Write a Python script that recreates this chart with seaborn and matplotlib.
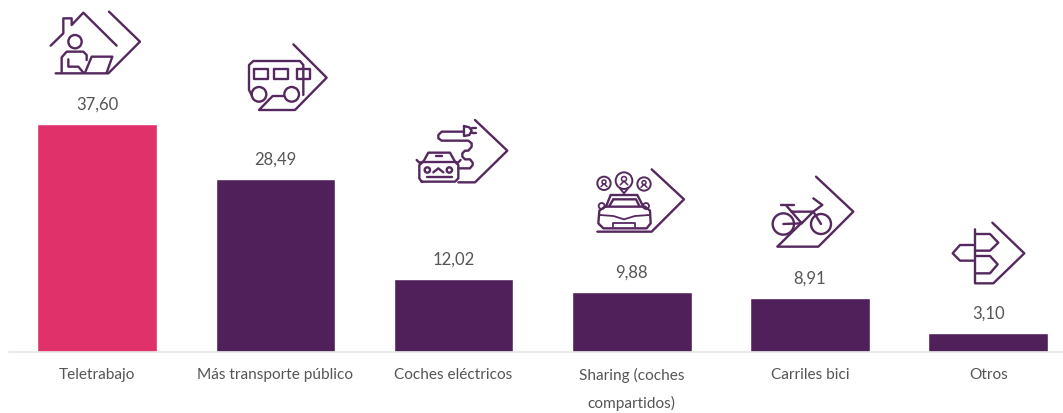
import matplotlib
matplotlib.use("Agg")
import matplotlib.pyplot as plt
import pandas as pd
import seaborn as sns
from matplotlib.patches import Circle

categories = ['Teletrabajo', 'Más transporte público', 'Coches eléctricos',
              'Sharing (coches\ncompartidos)', 'Carriles bici', 'Otros']
values = [37.60, 28.49, 12.02, 9.88, 8.91, 3.10]
bar_colors = ['#e0316b', '#4f2059', '#4f2059', '#4f2059', '#4f2059', '#4f2059']

ICON = '#55285f'
TEXT = '#555555'

sns.set_theme(style='white')
plt.rcParams['font.family'] = ['Lato', 'DejaVu Sans']

W, H = 1063, 413
fig = plt.figure(figsize=(W / 100, H / 100), dpi=100)
ax = fig.add_axes([9 / W, 61 / H, 1054 / W, 352 / H])

df = pd.DataFrame({'category': categories, 'value': values})
sns.barplot(data=df, x='category', y='value', hue='category', palette=bar_colors,
            legend=False, width=0.672, saturation=1, ax=ax)
ax.set_xlim(-0.495, 5.42)
ax.set_ylim(0, 58.1)
ax.set_xlabel('')
ax.set_ylabel('')
ax.set_yticks([])
sns.despine(ax=ax, left=True)
ax.spines['bottom'].set_color('#e6e6e6')
ax.spines['bottom'].set_linewidth(1.2)
ax.tick_params(axis='x', length=0, pad=11.5, labelsize=11.1, labelcolor=TEXT)
for lab in ax.get_xticklabels():
    lab.set_linespacing(2.05)
    lab.set_verticalalignment('top')

for cont in ax.containers:
    ax.bar_label(cont, fmt=lambda v: f'{v:.2f}'.replace('.', ','), padding=8.5,
                 fontsize=12, color=TEXT)

# icons, traced in pixels on an overlay
ov = fig.add_axes([0, 0, 1, 1], facecolor='none')
ov.set_xlim(0, W)
ov.set_ylim(H, 0)
ov.axis('off')


def line(x0, y0, pts, lw=1.7):
    ov.plot([x0 + p[0] / 3 for p in pts], [y0 + p[1] / 3 for p in pts],
            color=ICON, lw=lw, solid_capstyle='round', solid_joinstyle='round')


def ring(x0, y0, cx, cy, r, lw=1.7):
    ov.add_patch(Circle((x0 + cx / 3, y0 + cy / 3), r / 3, fill=False, ec=ICON, lw=lw))


# house
o = (30, 0)
line(*o, [(62, 137), (100, 100), (100, 55), (125, 55), (125, 75), (160, 38), (260, 137)])
line(*o, [(237, 35), (330, 125), (235, 220), (77, 220)])
ring(*o, 135, 125, 20)
line(*o, [(95, 215), (95, 172), (110, 155), (160, 155), (170, 165), (170, 180)])
line(*o, [(115, 178), (115, 200), (145, 200), (160, 218)])
line(*o, [(165, 218), (185, 170), (247, 170), (230, 218)])

# bus
line(*o, [(790, 133), (890, 233), (795, 330), (687, 330), (728, 288), (760, 288)])
line(*o, [(665, 285), (657, 270), (657, 195), (670, 183), (810, 183), (820, 195), (820, 285)])
line(*o, [(672, 207), (715, 207), (715, 237), (672, 237), (672, 207)])
line(*o, [(732, 207), (775, 207), (775, 237), (732, 237), (732, 207)])
line(*o, [(800, 207), (840, 207), (840, 237), (800, 237), (800, 207)])
ring(*o, 687, 283, 22)
ring(*o, 785, 283, 22)

# electric car
o = (400, 110)
line(*o, [(225, 30), (322, 122), (225, 217), (175, 217)])
line(*o, [(190, 65), (125, 65), (115, 75), (115, 85), (125, 92), (205, 92), (215, 100), (215, 110),
          (205, 122), (195, 122), (187, 130), (187, 140), (195, 148), (210, 148), (218, 158),
          (218, 165), (210, 175), (175, 175)])
line(*o, [(192, 48), (208, 52), (215, 62), (208, 75), (192, 78), (192, 48)])
line(*o, [(215, 55), (228, 55)])
line(*o, [(215, 70), (228, 70)])
line(*o, [(65, 215), (58, 205), (58, 165), (70, 155), (85, 128), (150, 128), (165, 155), (175, 165),
          (175, 205), (165, 215), (65, 215)])
line(*o, [(70, 155), (165, 155)])
line(*o, [(50, 150), (58, 158), (70, 155)])
line(*o, [(182, 150), (174, 158), (165, 155)])
line(*o, [(108, 137), (125, 137)])
ring(*o, 82, 180, 8)
ring(*o, 148, 180, 8)
line(*o, [(100, 187), (115, 175), (130, 187)])
line(*o, [(80, 200), (155, 200)])

# shared car
line(*o, [(755, 178), (852, 268), (755, 365), (592, 365)])
for cx, cy, r in [(612, 220, 20), (672, 212, 25), (732, 222, 20)]:
    ring(*o, cx, cy, r, lw=1.4)
    ring(*o, cx, cy - r * 0.2, r * 0.3, lw=1.1)
    line(*o, [(cx - r * 0.45, cy + r * 0.5), (cx, cy + r * 0.05), (cx + r * 0.45, cy + r * 0.5)], lw=1.1)
line(*o, [(660, 235), (672, 250), (684, 235)], lw=1.4)
line(*o, [(618, 290), (632, 255), (712, 255), (730, 290)])
line(*o, [(640, 268), (708, 268), (718, 288)])
line(*o, [(640, 268), (628, 288)])
line(*o, [(615, 290), (735, 290), (750, 302), (752, 340), (740, 355), (610, 355), (595, 340), (598, 302), (615, 290)])
line(*o, [(600, 315), (640, 318), (672, 328), (705, 318), (748, 315)], lw=1.3)
line(*o, [(640, 352), (640, 340), (705, 340), (705, 352)], lw=1.3)
ring(*o, 605, 288, 9, lw=1.3)
ring(*o, 738, 288, 9, lw=1.3)

# bike
o = (760, 170)
line(*o, [(168, 20), (280, 125), (175, 230), (52, 230), (125, 158)])
ring(*o, 70, 162, 32)
ring(*o, 183, 162, 30)
line(*o, [(62, 105), (103, 105)])
line(*o, [(80, 108), (125, 160), (160, 125), (95, 125)])
line(*o, [(160, 85), (187, 105), (160, 125), (183, 162)])
line(*o, [(70, 162), (125, 160)])

# signpost
line(*o, [(697, 158), (793, 250), (700, 340), (645, 340), (645, 178)])
line(*o, [(645, 192), (690, 192), (715, 218), (690, 242), (645, 242)])
line(*o, [(645, 258), (690, 258), (713, 283), (690, 310), (645, 310)])
line(*o, [(640, 225), (600, 225), (578, 250), (600, 272), (640, 272)])

fig.savefig('out.png', dpi=100)
